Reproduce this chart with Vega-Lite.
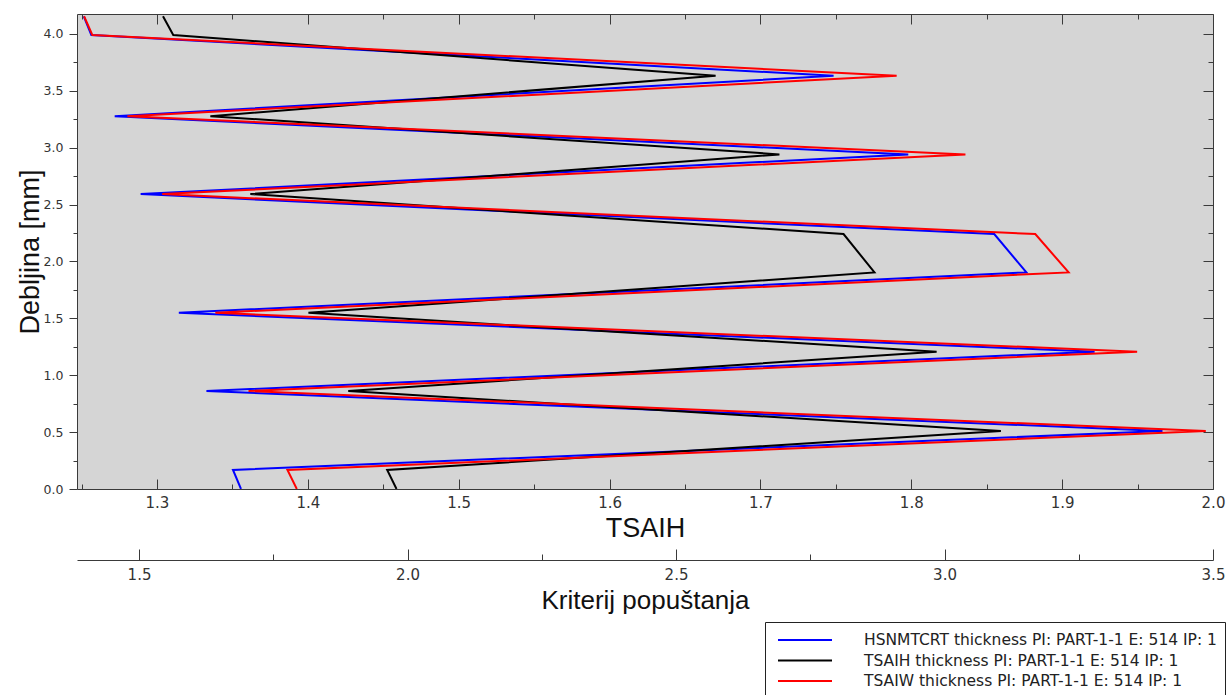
{
  "$schema": "https://vega.github.io/schema/vega-lite/v6.json",
  "width": 1136,
  "height": 475,
  "autosize": {"type": "none"},
  "padding": {"left": 77, "top": 14, "right": 13, "bottom": 206},
  "background": "white",
  "config": {
    "view": {"fill": "#d5d5d5", "stroke": "#3a3a3a", "strokeWidth": 1},
    "axis": {"grid": false, "domain": false, "tickColor": "#3a3a3a", "tickWidth": 1, "labelColor": "#333333", "labelFont": "DejaVu Sans", "labelOverlap": false, "labelFlush": false, "labelBound": false, "titleFont": "Liberation Sans", "titleFontWeight": "normal", "titleColor": "#111111"}
  },
  "datasets": {
    "curves": [
      {"series": "HSNMTCRT thickness PI: PART-1-1 E: 514 IP: 1", "i": 0, "x": 1.3557, "t": 0},
      {"series": "HSNMTCRT thickness PI: PART-1-1 E: 514 IP: 1", "i": 1, "x": 1.3504, "t": 0.167},
      {"series": "HSNMTCRT thickness PI: PART-1-1 E: 514 IP: 1", "i": 2, "x": 1.9665, "t": 0.51},
      {"series": "HSNMTCRT thickness PI: PART-1-1 E: 514 IP: 1", "i": 3, "x": 1.3328, "t": 0.861},
      {"series": "HSNMTCRT thickness PI: PART-1-1 E: 514 IP: 1", "i": 4, "x": 1.9215, "t": 1.207},
      {"series": "HSNMTCRT thickness PI: PART-1-1 E: 514 IP: 1", "i": 5, "x": 1.3145, "t": 1.549},
      {"series": "HSNMTCRT thickness PI: PART-1-1 E: 514 IP: 1", "i": 6, "x": 1.8763, "t": 1.904},
      {"series": "HSNMTCRT thickness PI: PART-1-1 E: 514 IP: 1", "i": 7, "x": 1.855, "t": 2.241},
      {"series": "HSNMTCRT thickness PI: PART-1-1 E: 514 IP: 1", "i": 8, "x": 1.2892, "t": 2.592},
      {"series": "HSNMTCRT thickness PI: PART-1-1 E: 514 IP: 1", "i": 9, "x": 1.798, "t": 2.941},
      {"series": "HSNMTCRT thickness PI: PART-1-1 E: 514 IP: 1", "i": 10, "x": 1.272, "t": 3.277},
      {"series": "HSNMTCRT thickness PI: PART-1-1 E: 514 IP: 1", "i": 11, "x": 1.7485, "t": 3.632},
      {"series": "HSNMTCRT thickness PI: PART-1-1 E: 514 IP: 1", "i": 12, "x": 1.2565, "t": 3.99},
      {"series": "HSNMTCRT thickness PI: PART-1-1 E: 514 IP: 1", "i": 13, "x": 1.2515, "t": 4.155},
      {"series": "TSAIH thickness PI: PART-1-1 E: 514 IP: 1", "i": 0, "x": 1.4588, "t": 0},
      {"series": "TSAIH thickness PI: PART-1-1 E: 514 IP: 1", "i": 1, "x": 1.4526, "t": 0.167},
      {"series": "TSAIH thickness PI: PART-1-1 E: 514 IP: 1", "i": 2, "x": 1.8594, "t": 0.51},
      {"series": "TSAIH thickness PI: PART-1-1 E: 514 IP: 1", "i": 3, "x": 1.4268, "t": 0.861},
      {"series": "TSAIH thickness PI: PART-1-1 E: 514 IP: 1", "i": 4, "x": 1.8168, "t": 1.207},
      {"series": "TSAIH thickness PI: PART-1-1 E: 514 IP: 1", "i": 5, "x": 1.4004, "t": 1.549},
      {"series": "TSAIH thickness PI: PART-1-1 E: 514 IP: 1", "i": 6, "x": 1.7756, "t": 1.904},
      {"series": "TSAIH thickness PI: PART-1-1 E: 514 IP: 1", "i": 7, "x": 1.7551, "t": 2.241},
      {"series": "TSAIH thickness PI: PART-1-1 E: 514 IP: 1", "i": 8, "x": 1.3619, "t": 2.592},
      {"series": "TSAIH thickness PI: PART-1-1 E: 514 IP: 1", "i": 9, "x": 1.7126, "t": 2.941},
      {"series": "TSAIH thickness PI: PART-1-1 E: 514 IP: 1", "i": 10, "x": 1.3354, "t": 3.277},
      {"series": "TSAIH thickness PI: PART-1-1 E: 514 IP: 1", "i": 11, "x": 1.6703, "t": 3.632},
      {"series": "TSAIH thickness PI: PART-1-1 E: 514 IP: 1", "i": 12, "x": 1.3108, "t": 3.99},
      {"series": "TSAIH thickness PI: PART-1-1 E: 514 IP: 1", "i": 13, "x": 1.304, "t": 4.155},
      {"series": "TSAIW thickness PI: PART-1-1 E: 514 IP: 1", "i": 0, "x": 1.3927, "t": 0},
      {"series": "TSAIW thickness PI: PART-1-1 E: 514 IP: 1", "i": 1, "x": 1.3865, "t": 0.167},
      {"series": "TSAIW thickness PI: PART-1-1 E: 514 IP: 1", "i": 2, "x": 1.9952, "t": 0.51},
      {"series": "TSAIW thickness PI: PART-1-1 E: 514 IP: 1", "i": 3, "x": 1.3607, "t": 0.861},
      {"series": "TSAIW thickness PI: PART-1-1 E: 514 IP: 1", "i": 4, "x": 1.9497, "t": 1.207},
      {"series": "TSAIW thickness PI: PART-1-1 E: 514 IP: 1", "i": 5, "x": 1.3387, "t": 1.549},
      {"series": "TSAIW thickness PI: PART-1-1 E: 514 IP: 1", "i": 6, "x": 1.9043, "t": 1.904},
      {"series": "TSAIW thickness PI: PART-1-1 E: 514 IP: 1", "i": 7, "x": 1.8822, "t": 2.241},
      {"series": "TSAIW thickness PI: PART-1-1 E: 514 IP: 1", "i": 8, "x": 1.3035, "t": 2.592},
      {"series": "TSAIW thickness PI: PART-1-1 E: 514 IP: 1", "i": 9, "x": 1.8359, "t": 2.941},
      {"series": "TSAIW thickness PI: PART-1-1 E: 514 IP: 1", "i": 10, "x": 1.2804, "t": 3.277},
      {"series": "TSAIW thickness PI: PART-1-1 E: 514 IP: 1", "i": 11, "x": 1.7903, "t": 3.632},
      {"series": "TSAIW thickness PI: PART-1-1 E: 514 IP: 1", "i": 12, "x": 1.2572, "t": 3.99},
      {"series": "TSAIW thickness PI: PART-1-1 E: 514 IP: 1", "i": 13, "x": 1.2517, "t": 4.155}
    ],
    "krit": [{"k": 1.3845}, {"k": 3.5}]
  },
  "resolve": {"scale": {"x": "independent"}},
  "layer": [
    {
      "data": {"name": "curves"},
      "resolve": {"axis": {"x": "independent", "y": "independent"}},
      "layer": [
        {
          "mark": {"type": "line", "strokeWidth": 2, "clip": true},
          "encoding": {
            "x": {"field": "x", "type": "quantitative", "scale": {"domain": [1.247, 2.0], "nice": false, "zero": false},
              "axis": {"orient": "bottom", "values": [1.3, 1.4, 1.5, 1.6, 1.7, 1.8, 1.9, 2.0], "format": ".1f", "tickSize": -10, "labelFontSize": 15, "labelPadding": 16, "title": "TSAIH", "titleFontSize": 27, "titleY": 39, "titleBaseline": "middle"}},
            "y": {"field": "t", "type": "quantitative", "scale": {"domain": [0, 4.175], "nice": false, "zero": false},
              "axis": {"orient": "left", "values": [0, 0.5, 1, 1.5, 2, 2.5, 3, 3.5, 4], "format": ".1f", "tickSize": 8, "labelFontSize": 12.5, "labelPadding": 6, "title": "Debljina [mm]", "titleFontSize": 27, "titleX": -47, "titleY": 237.5, "titleAngle": 270, "titleBaseline": "middle", "titleAlign": "center"}},
            "color": {"field": "series", "type": "nominal",
              "scale": {"domain": ["HSNMTCRT thickness PI: PART-1-1 E: 514 IP: 1", "TSAIH thickness PI: PART-1-1 E: 514 IP: 1", "TSAIW thickness PI: PART-1-1 E: 514 IP: 1"], "range": ["#0000ff", "#000000", "#ff0000"]},
              "legend": {"orient": "none", "legendX": 688, "legendY": 608, "title": null, "padding": 8, "clipHeight": 20, "symbolType": "stroke", "symbolSize": 2916, "symbolStrokeWidth": 2, "symbolOffset": 4, "labelFont": "DejaVu Sans", "labelFontSize": 15.5, "labelColor": "#222222", "labelOffset": 31, "labelLimit": 0, "strokeColor": "#222222", "fillColor": "#ffffff", "rowPadding": 0.5}},
            "order": {"field": "i", "type": "quantitative"}
          }
        },
        {
          "mark": {"type": "point", "opacity": 0},
          "encoding": {
            "x": {"field": "x", "type": "quantitative", "scale": {"domain": [1.247, 2.0], "nice": false, "zero": false},
              "axis": {"orient": "bottom", "values": [1.25, 1.35, 1.45, 1.55, 1.65, 1.75, 1.85, 1.95], "tickSize": -5, "labels": false, "title": null}},
            "y": {"field": "t", "type": "quantitative", "scale": {"domain": [0, 4.175], "nice": false, "zero": false},
              "axis": {"orient": "left", "values": [0.25, 0.75, 1.25, 1.75, 2.25, 2.75, 3.25, 3.75], "tickSize": 4, "labels": false, "title": null}}
          }
        },
        {
          "mark": {"type": "point", "opacity": 0},
          "encoding": {
            "x": {"field": "x", "type": "quantitative", "scale": {"domain": [1.247, 2.0], "nice": false, "zero": false},
              "axis": {"orient": "top", "values": [1.3, 1.4, 1.5, 1.6, 1.7, 1.8, 1.9, 2.0], "tickSize": -10, "labels": false, "title": null}},
            "y": {"field": "t", "type": "quantitative", "scale": {"domain": [0, 4.175], "nice": false, "zero": false},
              "axis": {"orient": "right", "values": [0, 0.5, 1, 1.5, 2, 2.5, 3, 3.5, 4], "tickSize": -10, "labels": false, "title": null}}
          }
        },
        {
          "mark": {"type": "point", "opacity": 0},
          "encoding": {
            "x": {"field": "x", "type": "quantitative", "scale": {"domain": [1.247, 2.0], "nice": false, "zero": false},
              "axis": {"orient": "top", "values": [1.25, 1.35, 1.45, 1.55, 1.65, 1.75, 1.85, 1.95], "tickSize": -5, "labels": false, "title": null}},
            "y": {"field": "t", "type": "quantitative", "scale": {"domain": [0, 4.175], "nice": false, "zero": false},
              "axis": {"orient": "right", "values": [0.25, 0.75, 1.25, 1.75, 2.25, 2.75, 3.25, 3.75], "tickSize": -5, "labels": false, "title": null}}
          }
        }
      ]
    },
    {
      "data": {"name": "krit"},
      "resolve": {"axis": {"x": "independent"}},
      "layer": [
        {
          "mark": {"type": "point", "opacity": 0},
          "encoding": {
            "x": {"field": "k", "type": "quantitative", "scale": {"domain": [1.3845, 3.5], "nice": false, "zero": false},
              "axis": {"orient": "bottom", "offset": 71, "values": [1.5, 2.0, 2.5, 3.0, 3.5], "format": ".1f", "domain": true, "domainColor": "#3a3a3a", "tickSize": -11, "labelFontSize": 15, "labelPadding": 18, "title": "Kriterij popuštanja", "titleFontSize": 26, "titleY": 40, "titleBaseline": "middle"}}
          }
        },
        {
          "mark": {"type": "point", "opacity": 0},
          "encoding": {
            "x": {"field": "k", "type": "quantitative", "scale": {"domain": [1.3845, 3.5], "nice": false, "zero": false},
              "axis": {"orient": "bottom", "offset": 71, "values": [1.75, 2.25, 2.75, 3.25], "tickSize": -6, "labels": false, "title": null}}
          }
        }
      ]
    }
  ]
}
